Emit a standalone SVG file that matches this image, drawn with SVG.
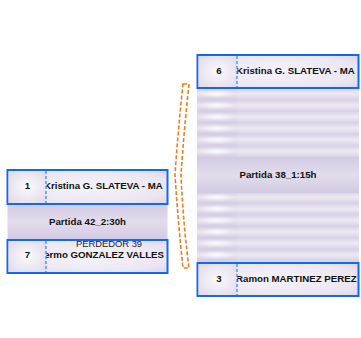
<svg xmlns="http://www.w3.org/2000/svg" width="361" height="338" viewBox="0 0 361 338">
<style>
.box{fill:url(#cellFill);stroke:#1268f3;stroke-width:2}
.num{fill:url(#numFill)}
.sep{stroke:#1268f3;stroke-width:1;stroke-dasharray:3,2}
.t{font-family:"Liberation Sans",Arial,sans-serif;font-size:9.7px;font-weight:bold;fill:#111}
.tn{font-family:"Liberation Sans",Arial,sans-serif;font-size:9.4px;fill:#222}
.band{fill:url(#bandFill)}
.conn{fill:none;stroke:#f07d1e;stroke-width:1.6;stroke-dasharray:4,2}
</style>
<defs>
<radialGradient id="cellFill" cx="0.5" cy="0.5" r="0.7">
<stop offset="0" stop-color="#f5f3f9"/>
<stop offset="0.7" stop-color="#ebe7f2"/>
<stop offset="1" stop-color="#dcd5e8"/>
</radialGradient>
<radialGradient id="numFill" cx="0.5" cy="0.5" r="0.6">
<stop offset="0" stop-color="#fbfafd"/>
<stop offset="1" stop-color="#e3deec"/>
</radialGradient>
<linearGradient id="bandFill" x1="0" y1="0" x2="0" y2="1">
<stop offset="0" stop-color="#d3cae2"/>
<stop offset="0.5" stop-color="#e2dcec"/>
<stop offset="1" stop-color="#d3cae2"/>
</linearGradient>
<linearGradient id="stripeFill" x1="0" y1="0" x2="0" y2="1">
<stop offset="0" stop-color="#d3cbe2"/>
<stop offset="0.5" stop-color="#ebe7f2"/>
<stop offset="1" stop-color="#d5cde3"/>
</linearGradient>
<radialGradient id="hl" cx="0.5" cy="0.5" r="0.5">
<stop offset="0" stop-color="#ffffff" stop-opacity="0.85"/>
<stop offset="1" stop-color="#ffffff" stop-opacity="0"/>
</radialGradient>
<clipPath id="cL1"><rect x="46.5" y="170" width="120.5" height="34"/></clipPath>
<clipPath id="cL7"><rect x="46.5" y="240" width="120.5" height="33"/></clipPath>
<clipPath id="cR6"><rect x="237.5" y="55" width="120.5" height="33"/></clipPath>
<clipPath id="cR3"><rect x="237.5" y="263" width="120.5" height="33"/></clipPath>
<pattern id="stripes" x="197" y="88" width="162" height="11.5" patternUnits="userSpaceOnUse">
<rect x="0" y="0" width="162" height="11.5" fill="url(#stripeFill)"/>
<ellipse cx="20" cy="5.8" rx="18" ry="4" fill="url(#hl)"/>
<rect x="40" y="0" width="122" height="11.5" fill="#ffffff" fill-opacity="0.1"/>
</pattern>
</defs>

<g id="connectors">
<path class="conn" d="M183,84 L189,84 Q184,130 181,175 Q183,222 189,268 L183,268 Q178,222 175,175 Q178,130 183,84 Z"/>
</g>

<g id="match42">
<rect class="band" x="7.5" y="204" width="160" height="36"/>
<text class="t" x="87.5" y="224.5" text-anchor="middle">Partida 42_2:30h</text>
</g>

<g id="node1">
<rect class="box" x="7.5" y="170" width="160" height="34"/>
<rect class="num" x="8.5" y="171" width="37.5" height="32"/>
<line class="sep" x1="46" y1="171" x2="46" y2="203"/>
<text class="t" x="27.5" y="188.5" text-anchor="middle">1</text>
<text class="t" x="44" y="188.5" clip-path="url(#cL1)">Kristina G. SLATEVA - MA</text>
</g>

<g id="node7">
<rect class="box" x="7.5" y="240" width="160" height="33"/>
<rect class="num" x="8.5" y="241" width="37.5" height="31"/>
<line class="sep" x1="46" y1="241" x2="46" y2="272"/>
<text class="t" x="27.5" y="257.5" text-anchor="middle">7</text>
<text class="tn" x="109" y="247.2" text-anchor="middle">PERDEDOR 39</text>
<text class="t" x="164" y="258" text-anchor="end" clip-path="url(#cL7)">ermo GONZALEZ VALLES</text>
</g>

<g id="match38">
<rect x="197" y="88" width="162" height="69" fill="url(#stripes)"/>
<rect class="band" x="197" y="157" width="162" height="36"/>
<rect x="197" y="193" width="162" height="70" fill="url(#stripes)"/>
<text class="t" x="278" y="178" text-anchor="middle">Partida 38_1:15h</text>
</g>

<g id="node6">
<rect class="box" x="197.5" y="55" width="161" height="33"/>
<rect class="num" x="198.5" y="56" width="38.5" height="31"/>
<line class="sep" x1="237" y1="56" x2="237" y2="87"/>
<text class="t" x="219" y="73.5" text-anchor="middle">6</text>
<text class="t" x="236" y="73.5" clip-path="url(#cR6)">Kristina G. SLATEVA - MA</text>
</g>

<g id="node3">
<rect class="box" x="197.5" y="263" width="161" height="33"/>
<rect class="num" x="198.5" y="264" width="38.5" height="31"/>
<line class="sep" x1="237" y1="264" x2="237" y2="295"/>
<text class="t" x="219" y="282" text-anchor="middle">3</text>
<text class="t" x="236" y="282" clip-path="url(#cR3)">Ramon MARTINEZ PEREZ</text>
</g>
</svg>
